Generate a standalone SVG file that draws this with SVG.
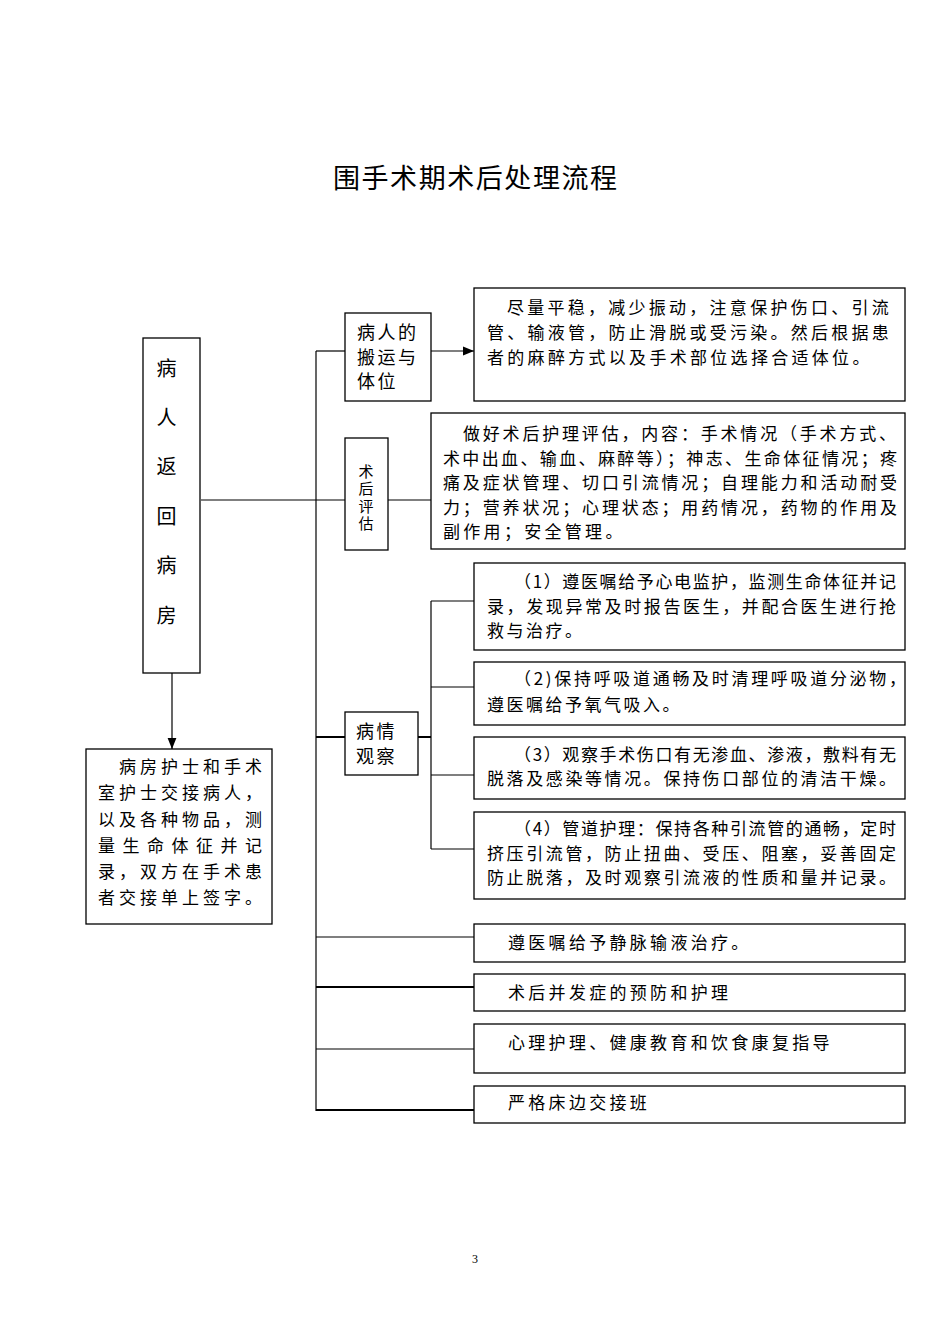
<svg xmlns="http://www.w3.org/2000/svg" width="950" height="1344" viewBox="0 0 950 1344">
<style>
text{font-family:"Noto Sans CJK SC","Noto Sans",sans-serif;fill:#000;font-size:17px}
.box{fill:#fff;stroke:#000;stroke-width:1.3}
.ln{fill:none;stroke:#000;stroke-width:1.2}
.thk{fill:none;stroke:#000;stroke-width:2}
.ls{letter-spacing:3.3px}
.big{font-size:20px}
.mid{font-size:18px;letter-spacing:2.5px}
.vt{font-size:15px;writing-mode:vertical-rl;letter-spacing:2.5px}
.title{font-size:27px}
.pg{font-size:12px;font-family:"Liberation Serif",serif}
</style>
<defs>
<marker id="ah" viewBox="0 0 10 10" refX="10" refY="5" markerWidth="11" markerHeight="11" markerUnits="userSpaceOnUse" orient="auto">
<path d="M0,1 L10,5 L0,9 Z" fill="#000"/>
</marker>
</defs>
<rect width="950" height="1344" fill="#fff"/>
<text class="title" x="333" y="188" textLength="284" lengthAdjust="spacing">围手术期术后处理流程</text>

<g id="connectors">
<line class="ln" x1="316" y1="351" x2="316" y2="1111"/>
<line class="ln" x1="201" y1="500" x2="345" y2="500"/>
<line class="ln" x1="316" y1="351" x2="345" y2="351"/>
<line class="ln" x1="431" y1="351" x2="474" y2="351" marker-end="url(#ah)" stroke-width="1.6"/>
<line class="ln" x1="388" y1="500" x2="431" y2="500"/>
<line class="ln" x1="172" y1="673" x2="172" y2="749" marker-end="url(#ah)" stroke-width="1.8"/>
<line class="thk" x1="316" y1="737" x2="345" y2="737"/>
<line class="thk" x1="418" y1="737" x2="431" y2="737"/>
<line class="ln" x1="431" y1="601" x2="431" y2="849"/>
<line class="ln" x1="431" y1="601" x2="474" y2="601"/>
<line class="ln" x1="431" y1="687" x2="474" y2="687"/>
<line class="ln" x1="431" y1="775" x2="474" y2="775"/>
<line class="ln" x1="431" y1="849" x2="474" y2="849"/>
<line class="ln" x1="316" y1="937" x2="474" y2="937"/>
<line class="thk" x1="316" y1="987" x2="474" y2="987"/>
<line class="ln" x1="316" y1="1049" x2="474" y2="1049"/>
<line class="thk" x1="316" y1="1110" x2="474" y2="1110"/>
</g>

<g id="n-return">
<rect class="box" x="143" y="338" width="57" height="335"/>
<text class="big" x="166.5" y="376" text-anchor="middle">病</text>
<text class="big" x="166.5" y="425" text-anchor="middle">人</text>
<text class="big" x="166.5" y="474" text-anchor="middle">返</text>
<text class="big" x="166.5" y="524" text-anchor="middle">回</text>
<text class="big" x="166.5" y="573" text-anchor="middle">病</text>
<text class="big" x="166.5" y="623" text-anchor="middle">房</text>
</g>

<g id="n-handover">
<rect class="box" x="86" y="749" width="186" height="175"/>
<text x="119" y="773" textLength="143" lengthAdjust="spacing">病房护士和手术</text>
<text x="98" y="799" textLength="164" lengthAdjust="spacing">室护士交接病人，</text>
<text x="98" y="826" textLength="164" lengthAdjust="spacing">以及各种物品，测</text>
<text x="98" y="852" textLength="164" lengthAdjust="spacing">量生命体征并记</text>
<text x="98" y="878" textLength="164" lengthAdjust="spacing">录，双方在手术患</text>
<text x="98" y="904" textLength="164" lengthAdjust="spacing">者交接单上签字。</text>
</g>

<g id="n-transport">
<rect class="box" x="345" y="313" width="86" height="88"/>
<text class="mid" x="357" y="339">病人的</text>
<text class="mid" x="357" y="364">搬运与</text>
<text class="mid" x="357" y="388">体位</text>
</g>

<g id="n-transport-detail">
<rect class="box" x="474" y="288" width="431" height="113"/>
<text class="ls" x="507" y="314" textLength="385" lengthAdjust="spacing">尽量平稳，减少振动，注意保护伤口、引流</text>
<text class="ls" x="487" y="339" textLength="405" lengthAdjust="spacing">管、输液管，防止滑脱或受污染。然后根据患</text>
<text class="ls" x="487" y="364">者的麻醉方式以及手术部位选择合适体位。</text>
</g>

<g id="n-assess">
<rect class="box" x="345" y="438" width="43" height="112"/>
<text class="vt" x="366" y="463.5">术后评估</text>
</g>

<g id="n-assess-detail">
<rect class="box" x="431" y="413" width="474" height="136"/>
<text x="463" y="440" textLength="433" lengthAdjust="spacing">做好术后护理评估，内容：手术情况（手术方式、</text>
<text x="443" y="465" textLength="454" lengthAdjust="spacing">术中出血、输血、麻醉等）；神志、生命体征情况；疼</text>
<text x="443" y="489" textLength="454" lengthAdjust="spacing">痛及症状管理、切口引流情况；自理能力和活动耐受</text>
<text x="443" y="514" textLength="454" lengthAdjust="spacing">力；营养状况；心理状态；用药情况，药物的作用及</text>
<text class="ls" x="443" y="538">副作用；安全管理。</text>
</g>

<g id="n-observe">
<rect class="box" x="345" y="712" width="73" height="63"/>
<text class="mid" x="356" y="738">病情</text>
<text class="mid" x="356" y="763">观察</text>
</g>

<g id="n-obs1">
<rect class="box" x="474" y="563" width="431" height="87"/>
<text x="514" y="588" textLength="382" lengthAdjust="spacing">（1）遵医嘱给予心电监护，监测生命体征并记</text>
<text x="487" y="613" textLength="409" lengthAdjust="spacing">录，发现异常及时报告医生，并配合医生进行抢</text>
<text x="487" y="637" letter-spacing="2.5">救与治疗。</text>
</g>

<g id="n-obs2">
<rect class="box" x="474" y="662" width="431" height="63"/>
<text x="514" y="685" textLength="392" lengthAdjust="spacing">（2)保持呼吸道通畅及时清理呼吸道分泌物，</text>
<text x="487" y="711" letter-spacing="2.5">遵医嘱给予氧气吸入。</text>
</g>

<g id="n-obs3">
<rect class="box" x="474" y="737" width="431" height="62"/>
<text x="514" y="761" textLength="382" lengthAdjust="spacing">（3）观察手术伤口有无渗血、渗液，敷料有无</text>
<text x="487" y="785" textLength="409" lengthAdjust="spacing">脱落及感染等情况。保持伤口部位的清洁干燥。</text>
</g>

<g id="n-obs4">
<rect class="box" x="474" y="812" width="431" height="87"/>
<text x="514" y="835" textLength="382" lengthAdjust="spacing">（4）管道护理：保持各种引流管的通畅，定时</text>
<text x="487" y="860" textLength="409" lengthAdjust="spacing">挤压引流管，防止扭曲、受压、阻塞，妥善固定</text>
<text x="487" y="884" textLength="409" lengthAdjust="spacing">防止脱落，及时观察引流液的性质和量并记录。</text>
</g>

<g id="n-infusion">
<rect class="box" x="474" y="924" width="431" height="38"/>
<text class="ls" x="508" y="949">遵医嘱给予静脉输液治疗。</text>
</g>

<g id="n-complication">
<rect class="box" x="474" y="974" width="431" height="37"/>
<text class="ls" x="508" y="999">术后并发症的预防和护理</text>
</g>

<g id="n-psych">
<rect class="box" x="474" y="1024" width="431" height="49"/>
<text class="ls" x="508" y="1049">心理护理、健康教育和饮食康复指导</text>
</g>

<g id="n-shift">
<rect class="box" x="474" y="1086" width="431" height="37"/>
<text class="ls" x="508" y="1109">严格床边交接班</text>
</g>

<text class="pg" x="475" y="1263" text-anchor="middle">3</text>
</svg>
